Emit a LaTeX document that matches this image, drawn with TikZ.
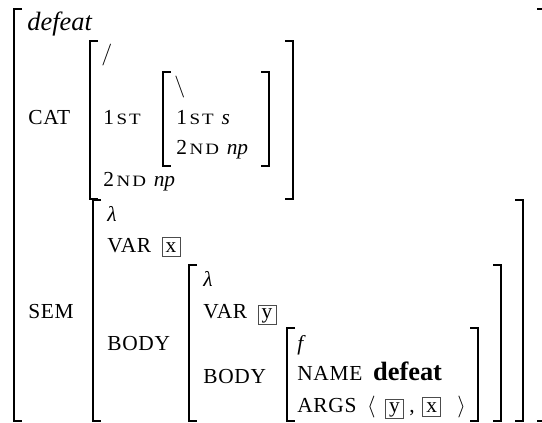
\documentclass[tikz,border=0pt]{standalone}
\usepackage{fontspec}
\setmainfont{Liberation Serif}
\newfontfamily\featfont[LetterSpace=3]{Liberation Serif}
\newfontfamily\smcfont[FakeStretch=1.2,LetterSpace=12]{Liberation Serif}
\usepackage{tikz}
\usetikzlibrary{positioning}

\newcommand{\avm}{\fontsize{10.7}{12.5}\selectfont}
\newcommand{\sml}[1]{\hspace{1.3pt}{\smcfont\fontsize{7.9}{9}\selectfont #1}}
\newcommand{\lbrk}[3]{\draw[brk] (#1+8,#2) -- (#1,#2) -- (#1,#3) -- (#1+8,#3);}
\newcommand{\rbrk}[3]{\draw[brk] (#1-8,#2) -- (#1,#2) -- (#1,#3) -- (#1-8,#3);}

\tikzstyle{feat} = [inner sep=0pt, anchor=base west, font=\featfont\avm]
\tikzstyle{val} = [inner sep=0pt, anchor=base west, font=\avm]
\tikzstyle{tag} = [draw=black!70, line width=0.45pt, inner sep=0pt, minimum width=9pt, minimum height=9.5pt, font=\avm]
\tikzstyle{brk} = [line width=0.7pt]

\begin{document}
\begin{tikzpicture}[x=0.5pt, y=-0.5pt]
    \useasboundingbox (0,0) rectangle (542,423);

    % outer matrix
    \lbrk{14}{9}{421}
    \rbrk{545}{9}{421}
    \node[val, font=\fontsize{13.2}{15}\selectfont\itshape] (head) at (27,31) {defeat};

    % CAT
    \node[feat] (cat) at (28,125) {CAT};
    \lbrk{90}{41}{199}
    \rbrk{293}{41}{199}
    \node[val] (slash) at (101,61) {$\big/$};
    \node[feat] (first) at (103,125) {1\sml{ST}};
    \lbrk{163}{72}{166}
    \rbrk{269}{72}{166}
    \node[val] (bslash) at (174,92) {$\big\backslash$};
    \node[feat] (ifirst) at (176,125) {1\sml{ST}};
    \node[val, base right=3.5pt of ifirst] (res) {\textit{s}};
    \node[feat] (isecond) at (176,155) {2\sml{ND}};
    \node[val, base right=3.5pt of isecond] (iarg) {\textit{np}};
    \node[feat] (second) at (103,186) {2\sml{ND}};
    \node[val, base right=3.5pt of second] (arg) {\textit{np}};

    % SEM
    \node[feat] (sem) at (28,318) {SEM};
    \lbrk{93}{200}{421}
    \rbrk{523}{200}{421}
    \node[val] (lam) at (107,221) {\textit{λ}};
    \node[feat] (var) at (107,252) {VAR};
    \node[tag, base right=5pt of var] (tx) {x};
    \node[feat] (body) at (107,350) {BODY};
    \lbrk{189}{265}{421}
    \rbrk{501}{265}{421}
    \node[val] (ilam) at (203,286) {\textit{λ}};
    \node[feat] (ivar) at (203,318) {VAR};
    \node[tag, base right=5pt of ivar] (ty) {y};
    \node[feat] (ibody) at (203,383) {BODY};
    \lbrk{287}{328}{421}
    \rbrk{478}{328}{421}
    \node[val] (fun) at (297,350) {\textit{f}};
    \node[feat] (name) at (297,380) {NAME};
    \node[val, base right=5pt of name, font=\fontsize{13.2}{15}\selectfont\bfseries] (pred) {defeat};
    \node[feat] (args) at (297,412) {ARGS};
    \node[val, base right=5pt of args] (la) {$\big\langle$};
    \node[tag, base right=4.5pt of la] (ay) {y};
    \node[val, base right=2.5pt of ay] (comma) {,};
    \node[tag, base right=3.5pt of comma] (ax) {x};
    \node[val, base right=8pt of ax] (ra) {$\big\rangle$};
\end{tikzpicture}
\end{document}
